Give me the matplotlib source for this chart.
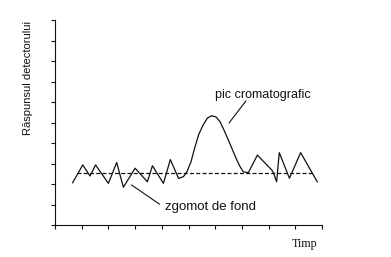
import numpy as np
import matplotlib
matplotlib.use("Agg")
import matplotlib.pyplot as plt

# signal (axis units = tick intervals)
t = [0.66, 1.04, 1.31, 1.52, 2.00, 2.31, 2.56, 3.00, 3.46, 3.65, 4.06, 4.32,
     4.63, 4.81, 4.94, 5.09, 5.24, 5.39, 5.55, 5.71, 5.87, 6.03, 6.18, 6.33,
     6.49, 6.65, 6.81, 6.93, 7.05, 7.24, 7.58, 8.12, 8.18, 8.30, 8.40, 8.78,
     9.20, 9.82]
signal = [2.06, 2.93, 2.39, 2.93, 2.03, 3.05, 1.84, 2.77, 2.11, 2.89, 2.03, 3.19,
          2.27, 2.36, 2.59, 3.07, 3.80, 4.44, 4.88, 5.22, 5.33, 5.27, 5.04, 4.63,
          4.15, 3.66, 3.17, 2.85, 2.60, 2.55, 3.41, 2.68, 2.55, 2.11, 3.53, 2.28,
          3.53, 2.11]
baseline_t = [0.81, 9.68]
baseline_y = [2.52, 2.52]

fig = plt.figure(figsize=(3.91, 2.57), dpi=100)
ax = fig.add_axes([55 / 391, 32 / 257, 267 / 391, 205 / 257])

ax.plot(t, signal, color="#111111", lw=0.9)
ax.plot(baseline_t, baseline_y, color="#111111", lw=0.9, dashes=(3.2, 1.8))

ax.set_xlim(0, 10)
ax.set_ylim(0, 10)
ax.set_xticks(np.arange(0, 11))
ax.set_yticks(np.arange(0, 11))
ax.set_xticklabels([])
ax.set_yticklabels([])
ax.tick_params(direction="out", length=3, width=0.8, color="#111111")
for side in ("top", "right"):
    ax.spines[side].set_visible(False)
for side in ("left", "bottom"):
    ax.spines[side].set_linewidth(0.8)
    ax.spines[side].set_color("#111111")

# annotations
ax.plot([2.87, 3.91], [1.95, 1.02], color="#111111", lw=0.8, clip_on=False)
ax.text(4.12, 0.88, "zgomot de fond", family="Liberation Sans", fontsize=9.5,
        ha="left", va="center", color="#111111")
ax.plot([6.52, 7.15], [4.98, 6.05], color="#111111", lw=0.8, clip_on=False)
ax.text(7.80, 6.34, "pic cromatografic", family="Liberation Sans", fontsize=9,
        ha="center", va="center", color="#111111")

fig.text(28 / 391, 1 - 78 / 257, "Răspunsul detectorului", rotation=90,
         family="Liberation Sans", fontsize=8, ha="center", va="center",
         color="#111111")
fig.text(304.7 / 391, 1 - 244.3 / 257, "Timp", family="Liberation Serif",
         fontsize=8.6, ha="center", va="center", color="#111111")

fig.savefig("out.png", dpi=100)
